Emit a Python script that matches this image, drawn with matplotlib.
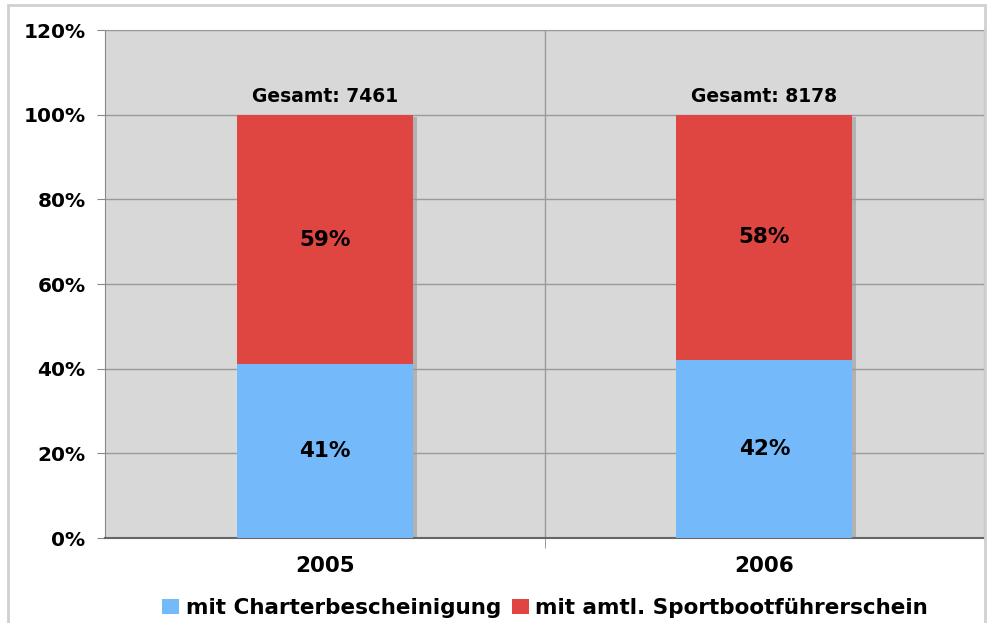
import matplotlib
matplotlib.use("Agg")
import matplotlib.pyplot as plt
import matplotlib.patheffects as pe
from matplotlib.patches import Rectangle
from matplotlib.ticker import FuncFormatter

years = ["2005", "2006"]
totals = [7461, 8178]
charter = [41, 42]
sportboot = [59, 58]
series_names = ["mit Charterbescheinigung", "mit amtl. Sportbootführerschein"]
colors = ["#74B9FA", "#E04641"]

plt.rcParams['font.family'] = ['DejaVu Sans']
plt.rcParams['font.weight'] = 'bold'

fig = plt.figure(figsize=(9.88, 6.23), dpi=100)
fig.patches.append(Rectangle((8/988, -0.1), (985-8)/988, 1.1 - 5/623, transform=fig.transFigure,
                             fill=False, edgecolor="#D0D0D0", linewidth=2))
ax = fig.add_axes([105/988, 1-538/623, (984-105)/988, (538-30)/623])
ax.set_facecolor("#D8D8D8")

x = list(range(len(years)))
stack_top = [c + s for c, s in zip(charter, sportboot)]
shadow = [pe.SimplePatchShadow(offset=(3, -2), shadow_rgbFace="#999999", alpha=0.6), pe.Normal()]
sb = ax.bar(x, stack_top, width=0.4, color=colors[1], zorder=2)
for b in sb:
    b.set_path_effects(shadow)
b1 = ax.bar(x, charter, width=0.4, color=colors[0], label=series_names[0], zorder=3)
b2 = ax.bar(x, sportboot, width=0.4, bottom=charter, color=colors[1], label=series_names[1], zorder=3)

for i in x:
    ax.text(i, charter[i] / 2, f"{charter[i]}%", ha="center", va="center", fontsize=15.5, fontweight="bold", zorder=5)
    ax.text(i, charter[i] + sportboot[i] / 2, f"{sportboot[i]}%", ha="center", va="center", fontsize=15.5, fontweight="bold", zorder=5)
    ax.text(i, stack_top[i] + 2.0, f"Gesamt: {totals[i]}", ha="center", va="bottom", fontsize=13.5, fontweight="bold", zorder=5)

ax.set_xlim(-0.5, len(years) - 0.5)
ax.set_ylim(0, 120)
ax.set_yticks(range(0, 121, 20))
ax.yaxis.set_major_formatter(FuncFormatter(lambda v, p: f"{int(v)}%"))
ax.grid(axis="y", color="#9A9A9A", linewidth=1, zorder=1)
ax.set_xticks(x)
ax.set_xticklabels(years)
ax.set_xticks([0.5], minor=True)
ax.grid(axis="x", which="minor", color="#9A9A9A", linewidth=1, zorder=1)
ax.tick_params(axis="x", which="major", length=0, pad=13, labelsize=15.5)
ax.tick_params(axis="x", which="minor", length=7, color="#888888", direction="out")
ax.tick_params(axis="y", length=6, color="#888888", labelsize=14.5, pad=8)
for t in ax.get_xticklabels() + ax.get_yticklabels():
    t.set_fontweight("bold")
for s in ["top", "right"]:
    ax.spines[s].set_color("#9A9A9A")
ax.spines["left"].set_color("#888888")
ax.spines["bottom"].set_color("#666666")
ax.spines["bottom"].set_linewidth(1.5)

leg = fig.legend(handles=[b1, b2], labels=series_names, loc="center", bbox_to_anchor=(545/988, 1-608/623),
                 ncol=2, frameon=False, handlelength=0.8, handleheight=0.65,
                 handletextpad=0.3, columnspacing=0.5, prop={'weight': 'bold', 'size': 15.5})

fig.savefig("out.png", dpi=100)
